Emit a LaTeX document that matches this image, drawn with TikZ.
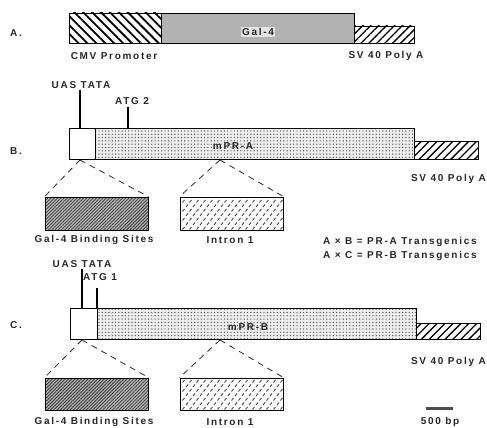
\documentclass[tikz,border=0pt]{standalone}
\usepackage{fontspec}
\setmainfont{Liberation Sans}[LetterSpace=17,BoldFont={Liberation Sans Bold}]
\usetikzlibrary{patterns,patterns.meta}

% short slanted marks used for the intron
\tikzdeclarepattern{
  name=intronmarks,
  type=uncolored,
  bottom left={(-1pt,-1pt)}, top right={(8pt,10pt)},
  tile size={(7pt,9pt)},
  code={
    \draw[line width=0.9pt] (0.5pt,0.5pt) -- (2.5pt,3pt);
    \draw[line width=0.9pt] (4pt,5pt) -- (6pt,7.5pt);
  }
}

\tikzset{
  lbl/.style={font=\fontsize{10}{12}\selectfont\bfseries, inner sep=1pt, text=black!85},
  rowlbl/.style={lbl},
  segbox/.style={draw, line width=0.9pt},
  cmv/.style={segbox, pattern={Lines[angle=-45,distance=6.3pt,line width=1.8pt]}},
  galfour/.style={segbox, preaction={fill=gray!58}, pattern={Dots[distance=2pt,radius=0.35pt]}, pattern color=gray!80},
  polyA/.style={segbox, pattern={Lines[angle=45,distance=5.6pt,line width=1.3pt]}},
  uasbox/.style={segbox, fill=white},
  mprbox/.style={segbox, preaction={fill=gray!14}, pattern={Dots[distance=3.3pt,radius=0.7pt]}, pattern color=gray!65!black},
  sitesbox/.style={segbox, minimum width=103pt, minimum height=33pt, inner sep=0pt,
    preaction={fill=gray!55}, pattern={Lines[angle=45,distance=2.3pt,line width=0.8pt]}, pattern color=gray!40!black},
  intronbox/.style={segbox, minimum width=103pt, minimum height=33pt, inner sep=0pt,
    pattern=intronmarks, pattern color=gray!55!black},
  marker/.style={line width=1.3pt},
  zoomline/.style={line width=0.8pt, dash pattern=on 6pt off 5pt, gray!30!black},
}

\begin{document}
\begin{tikzpicture}[x=1pt,y=-1pt]
\useasboundingbox (0,0) rectangle (487,428);

% construct A: CMV -- Gal-4 -- poly A
\node[rowlbl] (rowA) at (16,33) {A.};
\draw[cmv] (69,13) rectangle (161,43);
\draw[galfour] (161,13) rectangle (354,43);
\draw[polyA] (354,26) rectangle (414,43);
\node[lbl, fill=gray!22] (galtag) at (258,32) {Gal-4};
\node[lbl] (cmvlbl) at (114,56) {CMV Promoter};
\node[lbl] (polyAlblA) at (386,56) {SV 40 Poly A};

% construct B: UAS -- mPR-A -- poly A
\node[rowlbl] (rowB) at (16,151) {B.};
\draw[uasbox] (69,128) rectangle (95,159);
\draw[mprbox] (95,128) rectangle (414,159);
\draw[polyA] (414,141) rectangle (478,159);
\node[lbl] (mprA) at (233,146) {mPR-A};
\node[lbl, anchor=east] (polyAlblB) at (487,179) {SV 40 Poly A};
\node[lbl] (uastataB) at (81,85) {UAS TATA};
\node[lbl] (atgB) at (132,101) {ATG 2};
\coordinate (uasB) at (80,128);
\coordinate (atgtopB) at (128,107);
\coordinate (atgB0) at (128,128);
\draw[marker] (uastataB.south -| uasB) -- (uasB);
\draw[marker] (atgtopB) -- (atgB0);

\coordinate (uasfootB) at (80,160);
\coordinate (intronfootB) at (220,160);
\node[sitesbox] (sitesB) at (96.5,213.5) {};
\node[intronbox] (intronB) at (231.5,213.5) {};
\draw[zoomline] (uasfootB) -- (sitesB.north west);
\draw[zoomline] (uasfootB) -- (sitesB.north east);
\draw[zoomline] (intronfootB) -- (intronB.north west);
\draw[zoomline] (intronfootB) -- (intronB.north east);
\node[lbl] (sitesBlbl) at (94,240) {Gal-4 Binding Sites};
\node[lbl] (intronBlbl) at (230,240) {Intron 1};

% crosses
\node[lbl, anchor=west] (crossAB) at (322,242) {A × B = PR-A Transgenics};
\node[lbl, anchor=west] (crossAC) at (322,256) {A × C = PR-B Transgenics};

% construct C: UAS -- mPR-B -- poly A
\node[rowlbl] (rowC) at (16,325) {C.};
\draw[uasbox] (70,308) rectangle (97,339);
\draw[mprbox] (97,308) rectangle (416,339);
\draw[polyA] (416,323) rectangle (480,339);
\node[lbl] (mprB) at (248,327) {mPR-B};
\node[lbl, anchor=east] (polyAlblC) at (487,362) {SV 40 Poly A};
\node[lbl] (uastataC) at (82,264) {UAS TATA};
\node[lbl] (atgC) at (100,277) {ATG 1};
\coordinate (uasC) at (82,308);
\coordinate (atgtopC) at (97,288);
\coordinate (atgC0) at (97,308);
\draw[marker] (uastataC.south -| uasC) -- (uasC);
\draw[marker] (atgtopC) -- (atgC0);

\coordinate (uasfootC) at (82,340);
\coordinate (intronfootC) at (220,340);
\node[sitesbox, minimum height=32pt] (sitesC) at (96.5,394) {};
\node[intronbox, minimum height=32pt] (intronC) at (231.5,394) {};
\draw[zoomline] (uasfootC) -- (sitesC.north west);
\draw[zoomline] (uasfootC) -- (sitesC.north east);
\draw[zoomline] (intronfootC) -- (intronC.north west);
\draw[zoomline] (intronfootC) -- (intronC.north east);
\node[lbl] (sitesClbl) at (94,422) {Gal-4 Binding Sites};
\node[lbl] (intronClbl) at (230,422) {Intron 1};

% scale bar
\coordinate (barL) at (426,408);
\coordinate (barR) at (453,408);
\draw[line width=3pt, gray!60!black] (barL) -- (barR);
\node[lbl] (barlbl) at (440,422) {500 bp};
\end{tikzpicture}
\end{document}
